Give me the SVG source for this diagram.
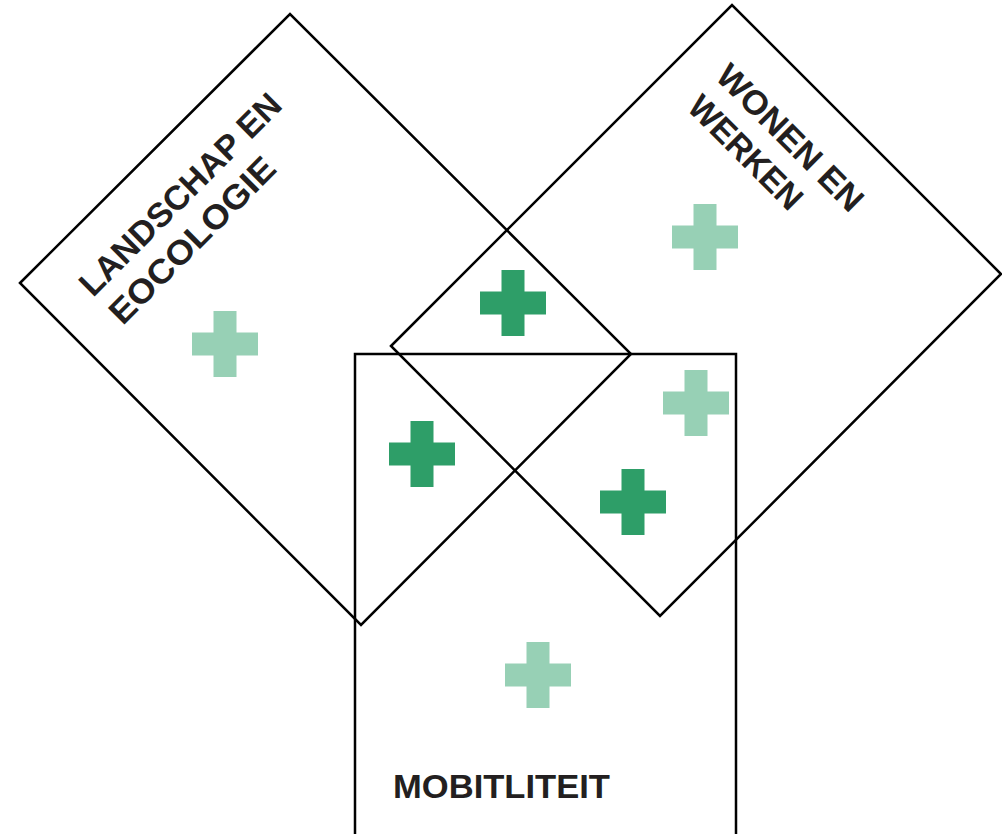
<svg xmlns="http://www.w3.org/2000/svg" width="1002" height="834" viewBox="0 0 1002 834">
<style>
.shape{fill:none;stroke:#000;stroke-width:2.5;stroke-linejoin:miter}
.lbl{font-family:"Liberation Sans",Arial,sans-serif;font-weight:bold;font-size:34px;fill:#231f20}
.dark{fill:#2e9e68}
.light{fill:#97d0b5}
</style>
<defs>
<path id="plus" d="M-11.5,-33H11.5V-11.5H33V11.5H11.5V33H-11.5V11.5H-33V-11.5H-11.5Z"/>
</defs>
<rect width="1002" height="834" fill="#fff"/>
<g id="landschap">
<polygon class="shape" points="20,283 290,14 631,354 361,625"/>
<g transform="translate(93,298) rotate(-45)">
<text class="lbl" x="0" y="0" textLength="270" lengthAdjust="spacingAndGlyphs">LANDSCHAP EN</text>
<text class="lbl" x="1" y="41" textLength="220" lengthAdjust="spacingAndGlyphs">EOCOLOGIE</text>
</g>
</g>
<g id="wonen">
<polygon class="shape" points="391,346 732,5 1001,274 660,616"/>
<g transform="translate(714,78) rotate(45)">
<text class="lbl" x="0" y="0" textLength="192" lengthAdjust="spacingAndGlyphs">WONEN EN</text>
<text class="lbl" x="2" y="42" textLength="146" lengthAdjust="spacingAndGlyphs">WERKEN</text>
</g>
</g>
<g id="mobiliteit">
<polyline class="shape" points="355,836 355,354 736,354 736,836"/>
<text class="lbl" x="393" y="798" textLength="217" lengthAdjust="spacingAndGlyphs">MOBITLITEIT</text>
</g>
<g id="crosses">
<use href="#plus" class="light" x="225" y="344"/>
<use href="#plus" class="light" x="705" y="237"/>
<use href="#plus" class="dark" x="513" y="303"/>
<use href="#plus" class="dark" x="422" y="454"/>
<use href="#plus" class="light" x="696" y="403"/>
<use href="#plus" class="dark" x="633" y="502"/>
<use href="#plus" class="light" x="538" y="675"/>
</g>
</svg>
